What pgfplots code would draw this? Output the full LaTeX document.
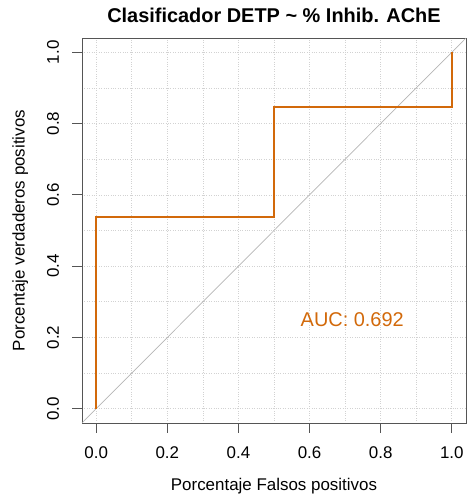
\documentclass[border=0pt]{standalone}
\usepackage{fontspec}
\setmainfont{Liberation Sans}
\usepackage{pgfplots}
\pgfplotsset{compat=1.18}
\definecolor{roc}{RGB}{210,105,10}
\definecolor{boxc}{RGB}{85,85,85}
\begin{document}
\begin{tikzpicture}
\begin{axis}[
    scale only axis,
    width=384bp, height=385bp,
    xmin=-0.04, xmax=1.04, ymin=-0.04, ymax=1.04,
    xtick={0,0.2,0.4,0.6,0.8,1.0},
    ytick={0,0.2,0.4,0.6,0.8,1.0},
    minor tick num=1,
    xticklabels={0.0,0.2,0.4,0.6,0.8,1.0},
    yticklabels={0.0,0.2,0.4,0.6,0.8,1.0},
    tick align=outside,
    major tick length=10bp,
    minor tick length=0pt,
    tick style={boxc, line width=0.9pt},
    axis line style={boxc, line width=0.9pt},
    xtick pos=bottom, ytick pos=left,
    grid=both,
    major grid style={gray!35, dotted, line width=0.6pt},
    minor grid style={gray!35, dotted, line width=0.6pt},
    tick label style={font=\fontsize{17}{19}\selectfont},
    yticklabel style={rotate=90, anchor=center},
    xticklabel style={anchor=center},
    xticklabel shift=20bp,
    yticklabel shift=19bp,
    xlabel={Porcentaje Falsos positivos},
    ylabel={Porcentaje verdaderos positivos},
    label style={font=\fontsize{17}{19}\selectfont},
    xlabel style={at={(axis description cs:0.5,-0.164)}, anchor=center},
    ylabel style={at={(axis description cs:-0.161,0.5)}, anchor=center},
    title={\bfseries Clasificador DETP \textasciitilde{} \% Inhib. AChE},
    title style={font=\fontsize{20}{22}\selectfont, at={(axis description cs:0.5,1.043)}, anchor=center},
]
\addplot[gray!58, line width=0.7pt] coordinates {(-0.04,-0.04) (1.04,1.04)};
\addplot[roc, line width=1.8pt, line join=miter] coordinates {
    (0,0) (0,0.538) (0.5,0.538) (0.5,0.846) (1,0.846) (1,1)};
\node[roc, font=\fontsize{20}{22}\selectfont] at (axis cs:0.72,0.25) {AUC: 0.692};
\coordinate (bl) at (rel axis cs:0,0);
\coordinate (tr) at (rel axis cs:1,1);
\end{axis}
\pgfresetboundingbox
\useasboundingbox ([shift={(-82bp,-76bp)}]bl) rectangle ([shift={(4bp,38bp)}]tr);
\end{tikzpicture}
\end{document}
